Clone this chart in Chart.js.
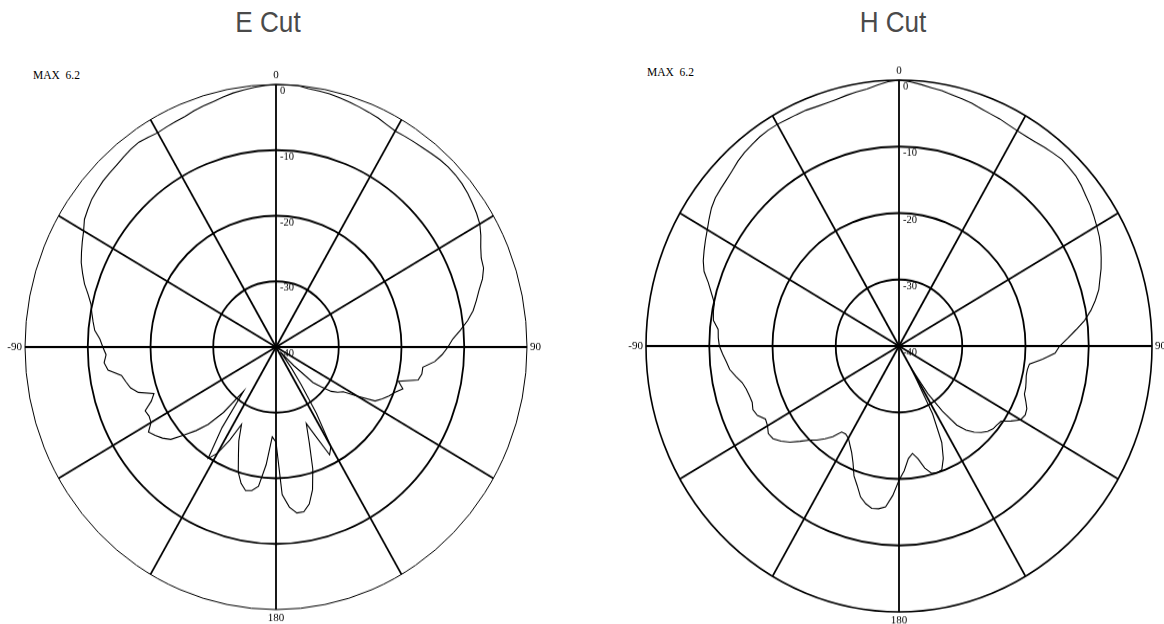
<!DOCTYPE html>
<html>
<head>
<meta charset="utf-8">
<script src="https://cdn.jsdelivr.net/npm/chart.js@4.4.0/dist/chart.umd.min.js"></script>
<style>
body { margin: 0; width: 1164px; height: 624px; overflow: hidden; background: #fff; position: relative; }
.plot { position: absolute; transform-origin: 50% 50%; }
.plot canvas { display: block; }
.title { position: absolute; top: 8px; line-height: 1; font-size: 29px; color: #4a4a4a;
  font-family: 'Liberation Sans Narrow', 'Liberation Sans', Arial, sans-serif;
  transform: translateX(-50%) scaleX(0.9); white-space: nowrap; }
.max { position: absolute; line-height: 1; font-size: 11.5px; font-family: 'Liberation Serif', 'Times New Roman', serif; white-space: pre; }
</style>
</head>
<body>
<div class="title" style="left:268px">E Cut</div>
<div class="title" style="left:893px">H Cut</div>
<div class="max" style="left:33px;top:70px">MAX  6.2</div>
<div class="max" style="left:647px;top:67px">MAX  6.2</div>
<div class="plot" style="left:-5px;top:66px;width:562px;height:562px;transform:scaleY(1.046)">
  <canvas id="eCut" width="562" height="562"></canvas>
</div>
<div class="plot" style="left:616px;top:63px;width:566px;height:566px;transform:scaleY(1.051)">
  <canvas id="hCut" width="566" height="566"></canvas>
</div>
<script>
// angle in degrees, clockwise from boresight (0 at top)
const angles = Array.from({ length: 144 }, (_, i) => i * 2.5);

// relative level in dB, one value every 2.5 degrees
const eCut = [
  0, 0, 0, -0.3, -0.4, -0.5, -0.7, -0.9, -1.1, -1.3, -1.5, -1.8,
  -2.0, -1.9, -1.8, -1.7, -1.5, -1.3, -1.2, -1.2, -1.3, -1.5, -1.8, -2.1,
  -2.5, -3.2, -4.0, -4.6, -4.8, -5.5, -6.5, -7.3, -8.1, -9.2, -10.5, -11.8,
  -12.6, -13.5, -14.6, -16.4, -16.4, -16.8, -19.8, -18.8, -19.8, -20.5, -21.3, -22.2,
  -25.0, -27.3, -28.0, -28.9, -30.5, -32, -36, -39, -38, -36, -33, -28,
  -22.5, -21.5, -25, -27.4, -24.5, -20.5, -17.5, -15.5, -14.5, -14.5, -15.5, -17.5,
  -25.5, -26.3, -22, -18.6, -17.8, -17.6, -18.5, -20, -22.5, -24.5, -27, -24,
  -21.3, -19.9, -25, -31.5, -27, -24, -22, -20.2, -18.1, -17.2, -16.5, -15.9,
  -17, -17.2, -17, -18.5, -19.3, -17, -16, -15.5, -15.0, -13, -12.5, -12.9,
  -12.4, -11.9, -11, -10.6, -10.2, -9.8, -9.0, -8.0, -7.2, -6.4, -5.8, -5.2,
  -4.6, -3.8, -3.4, -3.0, -2.8, -2.6, -2.5, -2.4, -2.2, -2.0, -1.9, -2.1,
  -2.3, -2.2, -2.1, -2.0, -1.7, -1.5, -1.3, -1.0, -0.7, -0.5, -0.3, -0.1
];

const hCut = [
  0, -0.2, -0.5, -0.8, -1.0, -1.3, -1.5, -1.7, -2.0, -2.2, -2.3, -2.5,
  -2.6, -2.6, -2.5, -2.3, -2.1, -1.9, -2.0, -2.1, -2.4, -2.8, -3.1, -3.5,
  -3.9, -4.3, -4.8, -5.4, -6.0, -6.7, -7.3, -8.2, -9.2, -10.4, -11.9, -13.3,
  -14.6, -15.3, -17.2, -19.2, -19.4, -19.4, -19.2, -19.0, -18.9, -18.3, -17.7, -17.5,
  -17.8, -19.0, -20.3, -20.5, -20.6, -21.0, -21.6, -22.4, -23.5, -25, -28, -31.5,
  -36, -28.5, -24, -21.7, -20.2, -20.0, -20.2, -21.2, -22.8, -23.7, -23.0, -21.2,
  -19.8, -17.5, -15.7, -15.3, -15.2, -15.7, -16.5, -18, -19.2, -21, -22.3, -23.2,
  -24, -24.3, -24.2, -22.8, -21.8, -20.8, -20, -18.8, -17.5, -16.5, -15.7, -15.5,
  -16, -16.2, -15.3, -15.0, -15.3, -15.2, -15.0, -14.6, -13.8, -13.0, -12.6, -12.1,
  -11.6, -11.4, -11.3, -10.4, -10.2, -10.1, -9.3, -8.4, -7.2, -6.5, -6.0, -5.5,
  -5.0, -4.4, -3.8, -3.4, -3.2, -3.0, -2.7, -2.3, -2.0, -1.8, -1.6, -1.5,
  -1.5, -1.6, -1.6, -1.6, -1.7, -1.7, -1.6, -1.4, -1.2, -1.0, -0.6, -0.2
];

const ringTicks = [0, -10, -20, -30, -40];
const cardinalLabels = ['0', '90', '180', '-90'];
const cardinalAngles = [0, 90, 180, 270];

// ring values next to the 0 deg spoke, angle labels outside the rim
const polarText = {
  id: 'polarText',
  afterDraw(chart) {
    const s = chart.scales.r;
    const ctx = chart.ctx;
    ctx.save();
    ctx.fillStyle = '#000';
    ctx.font = '10.5px "Liberation Serif", "Times New Roman", serif';
    ctx.textAlign = 'left';
    ctx.textBaseline = 'top';
    ringTicks.forEach(v => {
      ctx.fillText(String(v), s.xCenter + 4, s.yCenter - s.getDistanceFromCenterForValue(v) + 1);
    });
    ctx.font = '11px "Liberation Serif", "Times New Roman", serif';
    cardinalLabels.forEach((txt, i) => {
      const a = cardinalAngles[i];
      const p = s.getPointPosition(angles.indexOf(a), s.drawingArea + 3);
      ctx.textAlign = a === 90 ? 'left' : a === 270 ? 'right' : 'center';
      ctx.textBaseline = a === 0 ? 'bottom' : a === 180 ? 'top' : 'middle';
      ctx.fillText(txt, p.x, p.y);
    });
    ctx.restore();
  }
};

function makeChart(id, values, outerWidth) {
  return new Chart(document.getElementById(id), {
    type: 'radar',
    data: {
      labels: angles,
      datasets: [{
        data: values,
        borderColor: '#000',
        borderWidth: 1.1,
        pointRadius: 0,
        fill: false,
        tension: 0
      }]
    },
    options: {
      responsive: false,
      animation: false,
      layout: { padding: 30 },
      plugins: { legend: { display: false }, tooltip: { enabled: false } },
      scales: {
        r: {
          min: -40,
          max: 0,
          ticks: { stepSize: 10, display: false },
          pointLabels: { display: false },
          grid: {
            circular: true,
            color: '#000',
            lineWidth: c => (c.tick && c.tick.value === 0 ? outerWidth : 1.8)
          },
          angleLines: {
            color: '#000',
            lineWidth: c => (c.index % 12 === 0 ? 1.8 : 0)
          }
        }
      }
    },
    plugins: [polarText]
  });
}

makeChart('eCut', eCut, 1);
makeChart('hCut', hCut, 1.6);
</script>
</body>
</html>
